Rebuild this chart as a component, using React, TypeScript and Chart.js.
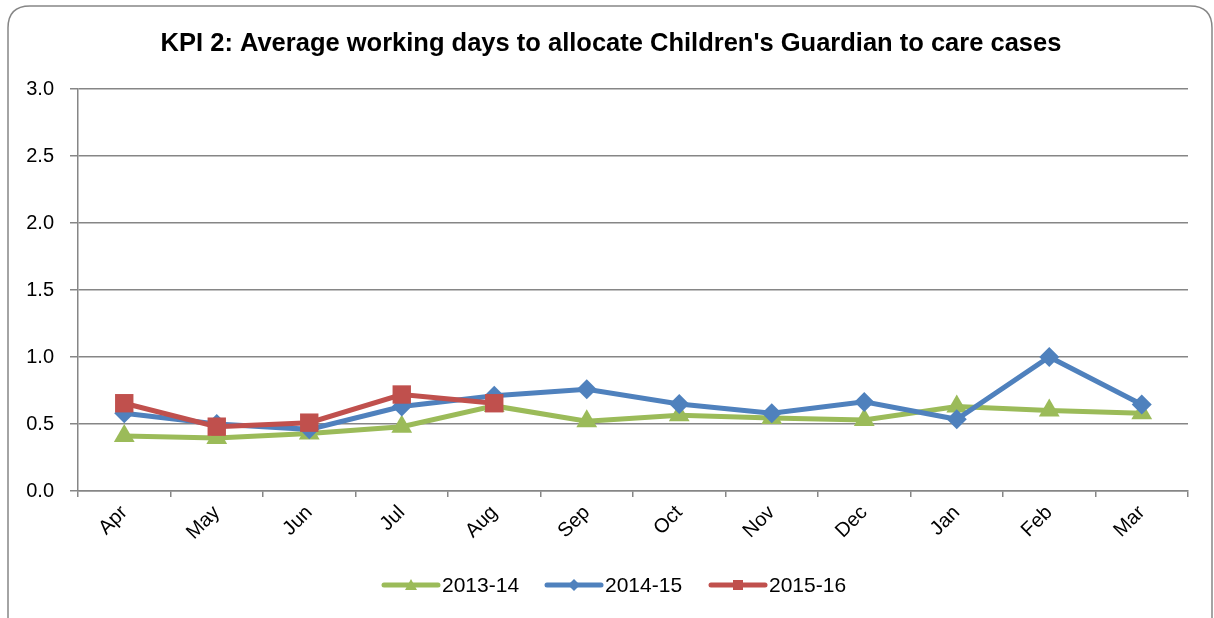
import React, { useEffect, useRef } from "react";
import { Chart, registerables } from "chart.js";

Chart.register(...registerables);

const categories = ["Apr", "May", "Jun", "Jul", "Aug", "Sep", "Oct", "Nov", "Dec", "Jan", "Feb", "Mar"];
const series201314 = [0.41, 0.395, 0.43, 0.48, 0.635, 0.52, 0.565, 0.545, 0.53, 0.63, 0.60, 0.58];
const series201415 = [0.58, 0.5, 0.46, 0.63, 0.71, 0.76, 0.65, 0.58, 0.665, 0.535, 1.0, 0.645];
const series201516 = [0.655, 0.48, 0.51, 0.72, 0.655, null, null, null, null, null, null, null];
const seriesNames = ["2013-14", "2014-15", "2015-16"];
const yTicks = [0, 0.5, 1.0, 1.5, 2.0, 2.5, 3.0];
const titleText = "KPI 2: Average working days to allocate Children's Guardian to care cases";

const GREEN = "#9BBB59";
const BLUE = "#4F81BD";
const RED = "#C0504D";
const FONT = "Liberation Sans, Arial, sans-serif";

const W = 1214;
const H = 618;
const PLOT_LEFT = 78;
const PLOT_RIGHT = 1188;
const PLOT_TOP = 89;
const PLOT_BOTTOM = 491;

const framePlugin = {
  id: "frame",
  beforeDraw(chart: any) {
    const ctx = chart.ctx;
    ctx.save();
    ctx.fillStyle = "#ffffff";
    ctx.fillRect(0, 0, chart.width, chart.height);
    const x = 8, y = 6, w = 1204, h = 640, r = 22;
    ctx.beginPath();
    ctx.moveTo(x + r, y);
    ctx.lineTo(x + w - r, y);
    ctx.quadraticCurveTo(x + w, y, x + w, y + r);
    ctx.lineTo(x + w, y + h - r);
    ctx.quadraticCurveTo(x + w, y + h, x + w - r, y + h);
    ctx.lineTo(x + r, y + h);
    ctx.quadraticCurveTo(x, y + h, x, y + h - r);
    ctx.lineTo(x, y + r);
    ctx.quadraticCurveTo(x, y, x + r, y);
    ctx.closePath();
    ctx.strokeStyle = "#868686";
    ctx.lineWidth = 1.5;
    ctx.stroke();

    ctx.fillStyle = "#000000";
    ctx.font = `bold 25.5px ${FONT}`;
    ctx.textAlign = "center";
    ctx.textBaseline = "middle";
    ctx.fillText(titleText, 611, 44);
    ctx.restore();
  },
  afterDraw(chart: any) {
    const ctx = chart.ctx;
    const items = [
      { name: seriesNames[0], color: GREEN, style: "triangle", x: 384 },
      { name: seriesNames[1], color: BLUE, style: "rectRot", x: 547 },
      { name: seriesNames[2], color: RED, style: "rect", x: 711 },
    ];
    const y = 585;
    ctx.save();
    items.forEach((it) => {
      ctx.strokeStyle = it.color;
      ctx.lineWidth = 5;
      ctx.lineCap = "round";
      ctx.beginPath();
      ctx.moveTo(it.x, y);
      ctx.lineTo(it.x + 54, y);
      ctx.stroke();
      ctx.lineCap = "butt";
      ctx.fillStyle = it.color;
      const cx = it.x + 27;
      ctx.beginPath();
      if (it.style === "triangle") {
        ctx.moveTo(cx, y - 6);
        ctx.lineTo(cx + 6, y + 5);
        ctx.lineTo(cx - 6, y + 5);
      } else if (it.style === "rectRot") {
        ctx.moveTo(cx, y - 6);
        ctx.lineTo(cx + 6, y);
        ctx.lineTo(cx, y + 6);
        ctx.lineTo(cx - 6, y);
      } else {
        ctx.rect(cx - 5, y - 5, 10, 10);
      }
      ctx.closePath();
      ctx.fill();
      ctx.fillStyle = "#000000";
      ctx.font = `21px ${FONT}`;
      ctx.textAlign = "left";
      ctx.textBaseline = "middle";
      ctx.fillText(it.name, it.x + 58, y + 1);
    });
    ctx.restore();
  },
};

export default function App() {
  const canvasRef = useRef<HTMLCanvasElement | null>(null);

  useEffect(() => {
    if (!canvasRef.current) return;
    const chart = new Chart(canvasRef.current, {
      type: "line",
      data: {
        labels: categories,
        datasets: [
          {
            label: seriesNames[0],
            data: series201314,
            borderColor: GREEN,
            backgroundColor: GREEN,
            borderWidth: 5,
            pointStyle: "triangle",
            pointRadius: 12,
            pointBorderWidth: 0,
            pointBackgroundColor: GREEN,
            order: 3,
          },
          {
            label: seriesNames[1],
            data: series201415,
            borderColor: BLUE,
            backgroundColor: BLUE,
            borderWidth: 5,
            pointStyle: "rectRot",
            pointRadius: 10,
            pointBorderWidth: 0,
            pointBackgroundColor: BLUE,
            order: 2,
          },
          {
            label: seriesNames[2],
            data: series201516,
            borderColor: RED,
            backgroundColor: RED,
            borderWidth: 5,
            pointStyle: "rect",
            pointRadius: 13,
            pointBorderWidth: 0,
            pointBackgroundColor: RED,
            order: 1,
          },
        ],
      },
      options: {
        animation: false,
        responsive: false,
        maintainAspectRatio: false,
        layout: {
          padding: { left: 0, right: W - PLOT_RIGHT, top: PLOT_TOP, bottom: 0 },
        },
        plugins: {
          legend: { display: false },
          title: { display: false },
          tooltip: { enabled: false },
        },
        scales: {
          x: {
            offset: true,
            grid: {
              offset: true,
              drawOnChartArea: false,
              drawTicks: true,
              tickLength: 6,
              color: "#868686",
              lineWidth: 1.5,
            },
            border: { display: true, color: "#868686", width: 1.5 },
            ticks: {
              minRotation: 45,
              maxRotation: 45,
              color: "#000000",
              font: { family: FONT, size: 20 },
              padding: 4,
            },
            afterFit(scale: any) {
              scale.height = H - PLOT_BOTTOM;
            },
          },
          y: {
            min: 0,
            max: 3,
            afterBuildTicks(scale: any) {
              scale.ticks = yTicks.map((v) => ({ value: v }));
            },
            grid: {
              drawOnChartArea: true,
              drawTicks: true,
              tickLength: 8,
              color: "#868686",
              lineWidth: 1.5,
            },
            border: { display: true, color: "#868686", width: 1.5 },
            ticks: {
              color: "#000000",
              font: { family: FONT, size: 20 },
              padding: 16,
              callback: (v: any) => Number(v).toFixed(1),
            },
            afterFit(scale: any) {
              scale.width = PLOT_LEFT;
            },
          },
        },
      },
      plugins: [framePlugin],
    });
    return () => chart.destroy();
  }, []);

  return (
    <div style={{ position: "fixed", left: 0, top: 0, width: W, height: H, background: "#fff" }}>
      <canvas ref={canvasRef} width={W} height={H} style={{ width: W, height: H }} />
    </div>
  );
}
